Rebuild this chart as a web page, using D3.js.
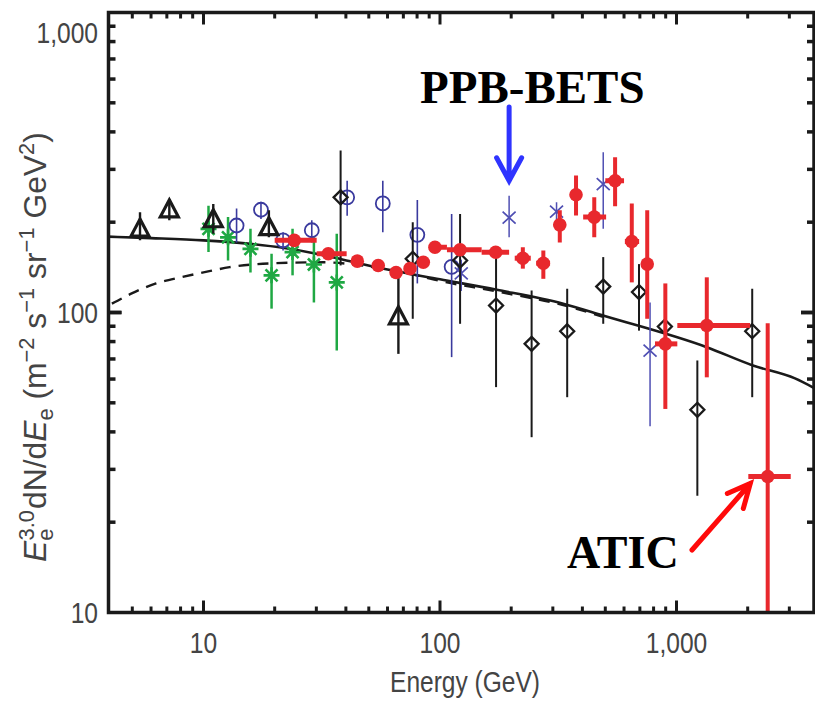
<!DOCTYPE html>
<html>
<head>
<meta charset="utf-8">
<script src="https://cdn.jsdelivr.net/npm/d3@7"></script>
<style>
  html, body { margin: 0; padding: 0; background: #fff; }
  svg { display: block; }
</style>
</head>
<body>
<svg id="chart" width="815" height="702"></svg>
<script>
// ---- Axis ticks ----
const xTickValues = [10, 100, 1000];
const xTickLabels = ["10", "100", "1,000"];
const yTickValues = [10, 100, 1000];
const yTickLabels = ["10", "100", "1,000"];

// ---- Model curves (energy in GeV, flux x E^3) ----
const modelE    = [3.95, 6, 10, 15, 22, 30, 39, 60, 100, 174, 332, 489, 1343, 2104, 3170, 3855];
const modelFlux = [179, 177, 174, 170, 164, 157, 150, 139, 129, 119, 107, 97.7, 76.6, 66.6, 60.3, 55.8];
const modelAltE    = [4.1, 5, 6.3, 8, 10, 12.9, 20, 32, 45, 60, 80, 100, 174, 332, 489];
const modelAltFlux = [107, 116, 125, 131, 136, 141.6, 146, 147, 144, 139, 133, 127.5, 117.5, 105.8, 96.8];

// ---- Open triangles ----
const triE    = [5.39, 7.17, 11.0, 18.9, 66.7];
const triFlux = [189, 219, 203, 191, 96.4];
const triLo   = [174, 203, 183, 178, 72.8];
const triHi   = [216, 239, 230, 219, 140];

// ---- Open circles ----
const circE    = [13.8, 17.5, 21.7, 28.7, 40.5, 57.3, 80.2, 112];
const circFlux = [195, 220, 174, 188, 242, 231, 181.5, 142];
const circLo   = [171, 205, 161, 171, 210, 185, 125, 71];
const circHi   = [222, 234, 185, 203, 275, 275, 237, 213];

// ---- PPB-BETS (crosses) ----
const ppbE    = [123, 196, 311, 490, 773];
const ppbFlux = [135, 207, 217, 268, 74.7];
const ppbLo   = [118, 178, 200, 190, 41.8];
const ppbHi   = [150, 245, 233, 342, 108];

// ---- Asterisks ----
const astE    = [10.5, 12.7, 15.8, 19.4, 23.8, 29.3, 36.6];
const astFlux = [190, 178, 163, 133, 159, 144.5, 126];
const astLo   = [159, 149, 136, 103, 133, 108, 74.7];
const astHi   = [227, 208, 190, 157, 190, 178, 183];

// ---- Emulsion chambers (open diamonds) ----
const ecE    = [38, 76.7, 121.6, 172.6, 244, 345, 490, 694, 893, 1225, 2090];
const ecFlux = [242, 151, 149, 105.5, 78.6, 86.6, 122, 117, 89.8, 47.4, 86.6];
const ecLo   = [143.5, 95.3, 91.7, 56.4, 38.4, 52.2, 91.7, 87, 86, 24.5, 52.2];
const ecHi   = [347, 200, 213, 161, 118.4, 120, 153, 145, 94, 69.2, 120];

// ---- ATIC (filled circles) ----
const aticE    = [24.2, 33.7, 44.7, 54.8, 65.2, 74.7, 85, 95.2, 121.6, 172, 224, 273.5, 321, 376, 449, 550, 647, 752, 897, 1343, 2430];
const aticFlux = [174, 157, 148.3, 143.5, 136, 140, 147, 165, 161.8, 158.8, 151.7, 146, 196, 247, 208, 275, 172.5, 145, 78.6, 90.5, 28.4];
const aticLo   = [168, 151, 143, 138, 131, 135, 142, 159, 156, 153, 140, 129.5, 171, 210.6, 178, 226, 126, 95.3, 47.7, 60.8, 10];
const aticHi   = [180, 163, 154, 149, 141, 145, 152, 171, 168, 165, 165, 161, 219, 286, 242, 329, 231, 219, 125, 131, 92.1];
const aticEmin = [20, 30.1, 43, 53, 63, 72, 82, 92, 107, 150, 207, 255, 310, 362, 403, 500, 605, 725, 811, 1008, 2012];
const aticEmax = [30.1, 40.3, 46.5, 57, 67.5, 77.5, 88, 107, 150, 196, 242, 292, 333, 390, 504, 600, 695, 780, 1008, 2047, 3041];

// ---- Layout ----
const svg = d3.select("#chart");
const x = d3.scaleLog().domain([3.966, 3814]).range([108.5, 814]);
const y = d3.scaleLog().domain([10, 1000]).range([612.5, 12.5]);
const [x0, x1] = x.range();
const [y0, y1] = [y.range()[1], y.range()[0]];

const RED = "#e8282d", BLUE = "#3a3a9e", BLUE_X = "#4f4fb3", GREEN = "#1fa843", INK = "#1a1a1a";
const LABEL = "#444";

svg.append("defs").append("clipPath").attr("id", "plot")
  .append("rect").attr("x", x0).attr("y", y0).attr("width", x1 - x0).attr("height", y1 - y0);

const plot = svg.append("g").attr("clip-path", "url(#plot)");

// model curves
const line = d3.line().x(d => x(d[0])).y(d => y(d[1])).curve(d3.curveMonotoneX);
plot.append("path").datum(d3.zip(modelAltE, modelAltFlux))
  .attr("d", line).attr("fill", "none").attr("stroke", INK)
  .attr("stroke-width", 2.4).attr("stroke-dasharray", "11,8");
plot.append("path").datum(d3.zip(modelE, modelFlux))
  .attr("d", line).attr("fill", "none").attr("stroke", INK).attr("stroke-width", 2.6);

// generic vertical error bars
function vbars(E, lo, hi, color, width) {
  plot.append("g").selectAll("line").data(d3.range(E.length)).join("line")
    .attr("x1", i => x(E[i])).attr("x2", i => x(E[i]))
    .attr("y1", i => y(lo[i])).attr("y2", i => y(hi[i]))
    .attr("stroke", color).attr("stroke-width", width);
}

// asterisks
vbars(astE, astLo, astHi, GREEN, 2.5);
plot.append("g").selectAll("path").data(d3.range(astE.length)).join("path")
  .attr("transform", i => `translate(${x(astE[i])},${y(astFlux[i])})`)
  .attr("d", "M-8,0H8M-6,-6L6,6M-6,6L6,-6M0,-8V8")
  .attr("fill", "none").attr("stroke", GREEN).attr("stroke-width", 2.6);

// open circles
vbars(circE, circLo, circHi, BLUE, 1.6);
plot.append("g").selectAll("circle").data(d3.range(circE.length)).join("circle")
  .attr("cx", i => x(circE[i])).attr("cy", i => y(circFlux[i])).attr("r", 7)
  .attr("fill", "none").attr("stroke", BLUE).attr("stroke-width", 1.8);

// PPB-BETS crosses
vbars(ppbE, ppbLo, ppbHi, BLUE_X, 1.5);
plot.append("g").selectAll("path").data(d3.range(ppbE.length)).join("path")
  .attr("transform", i => `translate(${x(ppbE[i])},${y(ppbFlux[i])})`)
  .attr("d", "M-6.5,-6L6.5,6M-6.5,6L6.5,-6")
  .attr("fill", "none").attr("stroke", BLUE_X).attr("stroke-width", 1.7);

// emulsion chamber diamonds
vbars(ecE, ecLo, ecHi, INK, 2);
plot.append("g").selectAll("path").data(d3.range(ecE.length)).join("path")
  .attr("transform", i => `translate(${x(ecE[i])},${y(ecFlux[i])})`)
  .attr("d", "M0,-7L7,0L0,7L-7,0Z")
  .attr("fill", "none").attr("stroke", INK).attr("stroke-width", 2.3);

// triangles
vbars(triE, triLo, triHi, INK, 2.4);
plot.append("g").selectAll("path").data(d3.range(triE.length)).join("path")
  .attr("transform", i => `translate(${x(triE[i])},${y(triFlux[i])})`)
  .attr("d", "M0,-10.5L9,6.5L-9,6.5Z")
  .attr("fill", "none").attr("stroke", INK).attr("stroke-width", 3.2).attr("stroke-linejoin", "miter");

// ATIC
const atic = plot.append("g");
atic.selectAll("line.h").data(d3.range(aticE.length)).join("line").attr("class", "h")
  .attr("x1", i => x(aticEmin[i])).attr("x2", i => x(aticEmax[i]))
  .attr("y1", i => y(aticFlux[i])).attr("y2", i => y(aticFlux[i]))
  .attr("stroke", RED).attr("stroke-width", 5);
atic.selectAll("line.v").data(d3.range(aticE.length)).join("line").attr("class", "v")
  .attr("x1", i => x(aticE[i])).attr("x2", i => x(aticE[i]))
  .attr("y1", i => y(aticLo[i])).attr("y2", i => y(aticHi[i]))
  .attr("stroke", RED).attr("stroke-width", 4);
atic.selectAll("circle").data(d3.range(aticE.length)).join("circle")
  .attr("cx", i => x(aticE[i])).attr("cy", i => y(aticFlux[i])).attr("r", 6.8)
  .attr("fill", RED);

// ---- Frame and inward ticks ----
const frame = svg.append("g").attr("stroke", INK).attr("fill", "none");
const xAll = x.ticks().filter(v => v > x.domain()[0] * 1.01 && v < x.domain()[1]);
const yAll = y.ticks().filter(v => v > 10 && v < 1000);
const isMajor = v => Math.abs(Math.log10(v) - Math.round(Math.log10(v))) < 1e-9;

xAll.forEach(v => {
  const len = isMajor(v) ? 12 : 6;
  frame.append("line").attr("x1", x(v)).attr("x2", x(v)).attr("y1", y1).attr("y2", y1 - len).attr("stroke-width", 3);
  frame.append("line").attr("x1", x(v)).attr("x2", x(v)).attr("y1", y0).attr("y2", y0 + len).attr("stroke-width", 3);
});
yAll.concat([100]).forEach(v => {
  const len = isMajor(v) ? 13 : 7;
  frame.append("line").attr("y1", y(v)).attr("y2", y(v)).attr("x1", x0).attr("x2", x0 + len).attr("stroke-width", 3.5);
  frame.append("line").attr("y1", y(v)).attr("y2", y(v)).attr("x1", x1).attr("x2", x1 - len).attr("stroke-width", 3.5);
});
frame.append("rect").attr("x", x0).attr("y", y0).attr("width", x1 - x0).attr("height", y1 - y0)
  .attr("stroke-width", 3.5);

// ---- Tick labels (condensed sans) ----
const font = "'Liberation Sans', Arial, sans-serif";
const condense = 0.82;
xTickValues.forEach((v, i) => {
  svg.append("text")
    .attr("transform", `translate(${x(v)},653) scale(${condense},1)`)
    .attr("text-anchor", "middle").attr("font-family", font).attr("font-size", 30)
    .attr("fill", LABEL).text(xTickLabels[i]);
});
yTickValues.forEach((v, i) => {
  const by = Math.max(y(v) + 10.5, 43);
  svg.append("text")
    .attr("transform", `translate(98,${by}) scale(${condense},1)`)
    .attr("text-anchor", "end").attr("font-family", font).attr("font-size", 30)
    .attr("fill", LABEL).text(yTickLabels[i]);
});

// x title
const xt = svg.append("text").attr("text-anchor", "middle").attr("font-family", font)
  .attr("font-size", 30).attr("fill", LABEL).text("Energy (GeV)");
xt.attr("transform", `translate(465,691.5) scale(${150 / xt.node().getComputedTextLength()},1)`);

// y title with sub/superscripts
const yt = svg.append("text").attr("text-anchor", "middle").attr("font-family", font)
  .attr("font-size", 32).attr("fill", LABEL);
const parts = [
  { t: "E", it: true },
  { t: "e", s: 22, dy: 7 },
  { t: "3.0", s: 22, dx: -12, dy: -19 },
  { t: "dN/d", dy: 12, dx: 1 },
  { t: "E", it: true },
  { t: "e", s: 22, dy: 7 },
  { t: " (m", dy: -7 },
  { t: "\u22122", s: 22, dy: -12 },
  { t: " s", dy: 12 },
  { t: "\u22121", s: 22, dy: -12 },
  { t: " sr", dy: 12 },
  { t: "\u22121", s: 22, dy: -12 },
  { t: " GeV", dy: 12 },
  { t: "2", s: 22, dy: -12 },
  { t: ")", dy: 12 }
];
parts.forEach(p => {
  const ts = yt.append("tspan").text(p.t);
  if (p.it) ts.attr("font-style", "italic");
  if (p.s) ts.attr("font-size", p.s);
  if (p.dy) ts.attr("dy", p.dy);
  if (p.dx) ts.attr("dx", p.dx);
});
const ytLen = yt.node().getBBox().width;
yt.attr("transform", `translate(46,347) rotate(-90) scale(${430 / ytLen},1)`);

// ---- Annotations ----
const serif = "'Liberation Serif', 'Times New Roman', serif";
svg.append("text").attr("x", 420).attr("y", 103).attr("font-family", serif)
  .attr("font-weight", "bold").attr("font-size", 47).attr("fill", "#000").text("PPB-BETS");

const bx = x(ppbE[1]), btip = y(ppbHi[1]) - 15;
svg.append("path")
  .attr("d", `M${bx},107V${btip}M${bx - 12.5},${btip - 23}L${bx},${btip}L${bx + 12.5},${btip - 23}`)
  .attr("fill", "none").attr("stroke", "#2f34ff").attr("stroke-width", 5).attr("stroke-linecap", "round");

svg.append("text").attr("x", 567).attr("y", 568).attr("font-family", serif)
  .attr("font-weight", "bold").attr("font-size", 46).attr("fill", "#000").text("ATIC");

const last = aticE.length - 1;
const rtx = x(aticEmin[last]) + 2, rty = y(aticFlux[last]) + 7;
svg.append("path")
  .attr("d", `M692,550L${rtx},${rty}M${rtx - 23},${rty + 10}L${rtx},${rty}L${rtx - 7},${rty + 25}`)
  .attr("fill", "none").attr("stroke", "#ff0a0a").attr("stroke-width", 5).attr("stroke-linecap", "round");
</script>
</body>
</html>
